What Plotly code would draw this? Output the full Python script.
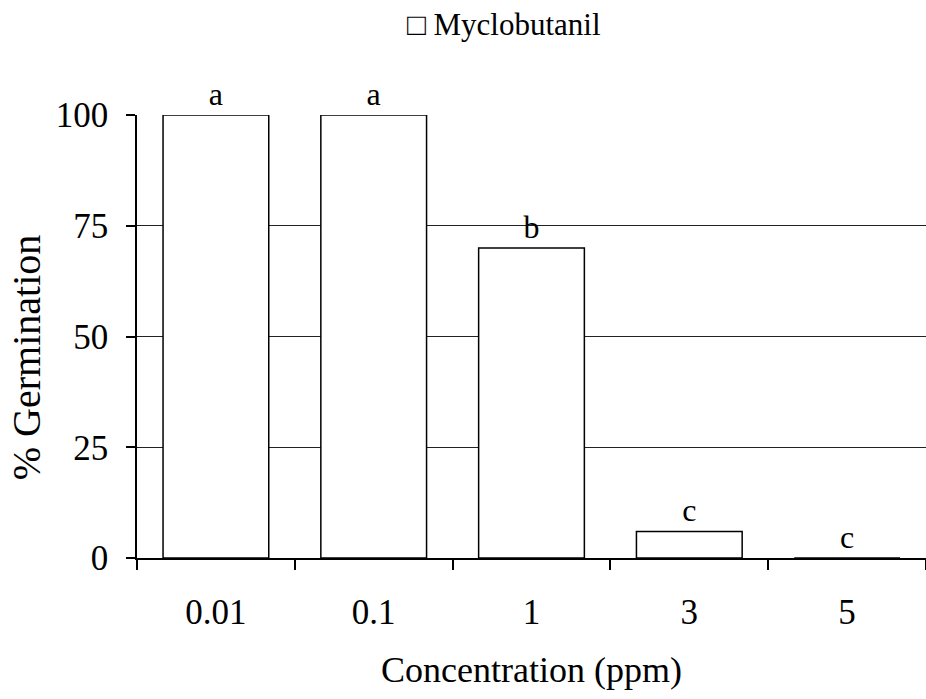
import plotly.graph_objects as go

categories = ["0.01", "0.1", "1", "3", "5"]
germination = [100, 100, 70, 6, 0]
letters = ["a", "a", "b", "c", "c"]
y_ticks = [0, 25, 50, 75, 100]
series_name = "Myclobutanil"
x_title = "Concentration (ppm)"
y_title = "% Germination"

FONT = "Liberation Serif, Times New Roman, serif"

fig = go.Figure()
fig.add_trace(go.Bar(
    x=categories, y=germination,
    text=letters, textposition="outside", cliponaxis=False,
    textfont=dict(family=FONT, size=32, color="black"),
    marker=dict(color="white", line=dict(color="black", width=1.5)),
    width=0.67, showlegend=False, name=series_name,
))

fig.add_annotation(
    text="\u25a1 " + series_name, xref="paper", yref="paper",
    x=0.34, y=1.205, xanchor="left", yanchor="middle", showarrow=False,
    font=dict(family=FONT, size=31, color="black"),
)

fig.add_annotation(
    text=y_title, xref="paper", yref="paper",
    x=-0.139, y=0.454, xanchor="center", yanchor="middle", showarrow=False,
    textangle=-90,
    font=dict(family=FONT, size=40, color="black"),
)

fig.update_layout(
    width=926, height=699,
    margin=dict(l=137, r=0, t=115, b=141, pad=0),
    plot_bgcolor="white", paper_bgcolor="white",
    font=dict(family=FONT, color="black"),
)
fig.update_xaxes(
    type="category", range=[-0.5, 4.5],
    showline=True, linecolor="black", linewidth=1.5,
    ticks="outside", tickson="boundaries", ticklen=10, tickcolor="black", tickwidth=1.5,
    tickfont=dict(family=FONT, size=35, color="black"),
    ticklabelstandoff=22,
    title=dict(text=x_title, font=dict(family=FONT, size=36, color="black"), standoff=26),
    showgrid=False,
)
fig.update_yaxes(
    range=[0, 100], tickvals=y_ticks,
    showline=True, linecolor="black", linewidth=1.5,
    ticks="outside", ticklen=9, tickcolor="black", tickwidth=1.5,
    tickfont=dict(family=FONT, size=35, color="black"),
    ticklabelstandoff=11,
    showgrid=True, gridcolor="#222222", gridwidth=1,
    zeroline=False,
)

fig.write_html("out.html")
